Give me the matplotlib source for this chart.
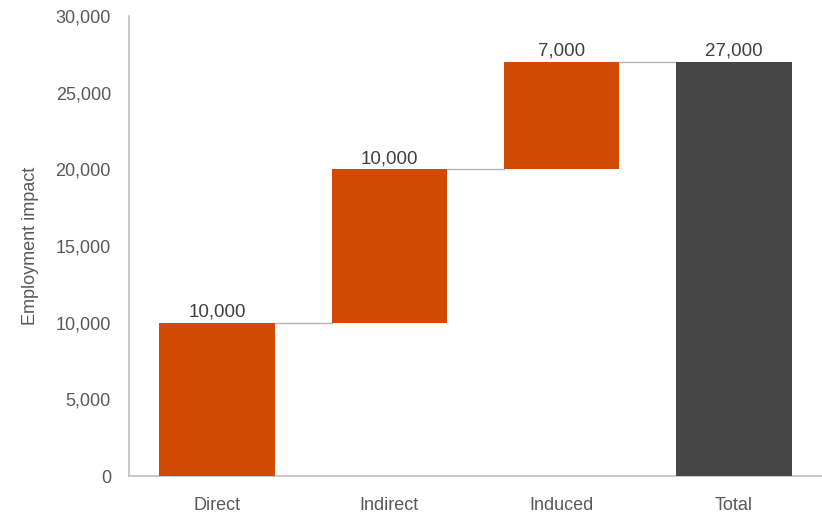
import matplotlib.pyplot as plt
from matplotlib.ticker import FuncFormatter

plt.rcParams['font.family'] = ['Liberation Sans', 'DejaVu Sans']

# data
categories = ["Direct", "Indirect", "Induced", "Total"]
increments = [10000, 10000, 7000]
total = 27000

bases = [0]
for v in increments[:-1]:
    bases.append(bases[-1] + v)
heights = increments + [total]
bottoms = bases + [0]
colors = ["#D04A02"] * 3 + ["#464646"]

fig = plt.figure(figsize=(8.22, 5.17), dpi=100)
ax = fig.add_axes([0.157, 0.0793, 0.843, 0.8897])

x = list(range(len(categories)))
ax.bar(x, heights, bottom=bottoms, width=0.67, color=colors, zorder=3)

# connector lines between bars
tops = [b + h for b, h in zip(bottoms, heights)]
for i in range(len(categories) - 1):
    ax.plot([i + 0.335, i + 1 - 0.335], [tops[i], tops[i]],
            color="#b4b4b4", lw=1, zorder=2)

# value labels
for i, (t, h) in enumerate(zip(tops, heights)):
    ax.text(i, t + 150, f"{h:,}", ha="center", va="bottom",
            fontsize=13.5, color="#404040")

ax.set_xlim(-0.51, 3.51)
ax.set_ylim(0, 30000)
ax.set_yticks(range(0, 30001, 5000))
ax.yaxis.set_major_formatter(FuncFormatter(lambda v, p: f"{int(v):,}"))
ax.set_xticks(x)
ax.set_xticklabels(categories)
ax.set_ylabel("Employment impact", fontsize=13, color="#595959", labelpad=12)

for s in ["top", "right"]:
    ax.spines[s].set_visible(False)
for s in ["left", "bottom"]:
    ax.spines[s].set_color("#bfbfbf")
    ax.spines[s].set_linewidth(1.2)
ax.tick_params(axis="both", length=0, labelsize=13, colors="#595959")
ax.tick_params(axis="x", pad=15)
ax.tick_params(axis="y", pad=13)

fig.savefig("out.png", dpi=100)
